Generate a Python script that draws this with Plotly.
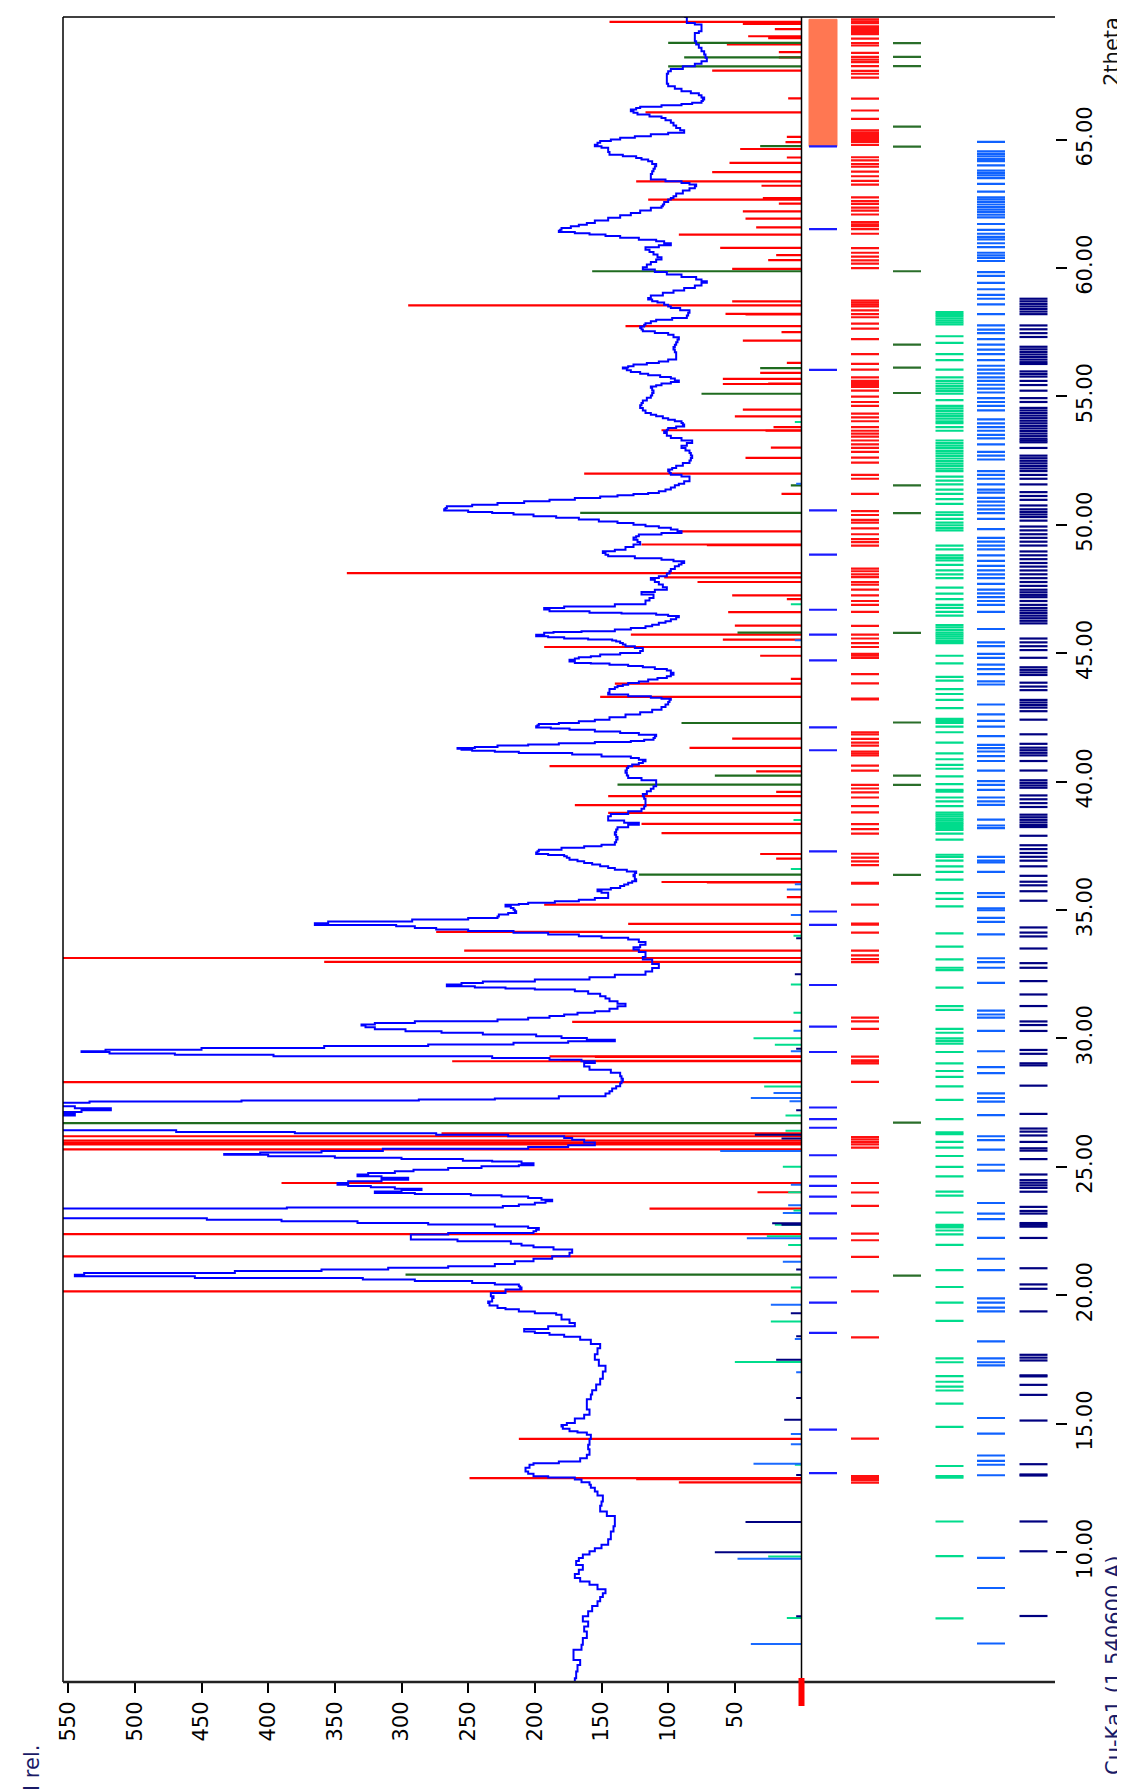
import plotly.graph_objects as go

# ---------------- data ----------------
# measured pattern (2theta, relative intensity)
profile_2theta = [
 4.94, 5.09, 5.35, 5.6, 5.8, 6.0, 6.2, 6.39, 6.65, 6.91,
 7.1, 7.3, 7.5, 7.69, 7.9, 8.08, 8.25, 8.4, 8.55, 8.73,
 8.85, 8.99, 9.15, 9.31, 9.5, 9.65, 9.77, 9.9, 10.03, 10.15,
 10.28, 10.5, 10.8, 11.0, 11.19, 11.4, 11.58, 11.8, 11.97, 12.2,
 12.36, 12.5, 12.62, 12.72, 12.82, 12.9, 12.95, 13.05, 13.14, 13.28,
 13.4, 13.46, 13.53, 13.65, 13.79, 14.0, 14.18, 14.4, 14.57, 14.65,
 14.7, 14.8, 14.89, 14.95, 15.02, 15.2, 15.35, 15.55, 15.74, 15.95,
 16.13, 16.3, 16.52, 16.75, 17.03, 17.25, 17.49, 17.7, 17.94, 18.1,
 18.27, 18.38, 18.46, 18.53, 18.59, 18.68, 18.79, 18.92, 19.05, 19.24,
 19.3, 19.37, 19.45, 19.5, 19.6, 19.7, 19.76, 19.89, 19.96, 20.09,
 20.22, 20.3, 20.35, 20.42, 20.48, 20.55, 20.61, 20.67, 20.74, 20.8,
 20.87, 20.94, 21.0, 21.07, 21.13, 21.22, 21.32, 21.42, 21.52, 21.65,
 21.78, 21.87, 21.94, 22.0, 22.1, 22.17, 22.29, 22.36, 22.42, 22.49,
 22.55, 22.62, 22.68, 22.75, 22.81, 22.88, 22.94, 23.0, 23.33, 23.38,
 23.42, 23.47, 23.53, 23.6, 23.66, 23.72, 23.79, 23.84, 23.89, 23.94,
 23.98, 24.04, 24.1, 24.15, 24.2, 24.25, 24.3, 24.37, 24.44, 24.5,
 24.57, 24.63, 24.7, 24.76, 24.83, 24.89, 24.95, 25.02, 25.06, 25.14,
 25.21, 25.24, 25.3, 25.35, 25.41, 25.47, 25.5, 25.56, 25.62, 25.7,
 25.77, 25.84, 25.95, 26.05, 26.12, 26.19, 26.25, 26.31, 26.36, 26.42,
 26.9, 27.0, 27.06, 27.13, 27.2, 27.28, 27.36, 27.42, 27.49, 27.54,
 27.58, 27.62, 27.66, 27.75, 27.85, 27.94, 28.05, 28.14, 28.25, 28.33,
 28.43, 28.53, 28.66, 28.78, 28.91, 29.04, 29.11, 29.17, 29.24, 29.3,
 29.36, 29.41, 29.47, 29.5, 29.56, 29.63, 29.7, 29.76, 29.83, 29.89,
 29.95, 30.02, 30.08, 30.15, 30.22, 30.28, 30.36, 30.43, 30.5, 30.54,
 30.6, 30.67, 30.74, 30.8, 30.87, 30.93, 31.0, 31.06, 31.15, 31.25,
 31.35, 31.45, 31.55, 31.64, 31.74, 31.84, 31.9, 31.94, 31.98, 32.03,
 32.1, 32.16, 32.22, 32.29, 32.38, 32.48, 32.6, 32.74, 32.9, 33.07,
 33.17, 33.26, 33.36, 33.46, 33.55, 33.65, 33.75, 33.85, 33.92, 33.98,
 34.05, 34.11, 34.18, 34.24, 34.3, 34.37, 34.42, 34.48, 34.55, 34.63,
 34.69, 34.75, 34.82, 34.88, 34.95, 35.01, 35.08, 35.14, 35.2, 35.23,
 35.28, 35.34, 35.4, 35.47, 35.55, 35.6, 35.67, 35.73, 35.8, 35.86,
 35.93, 35.99, 36.06, 36.12, 36.2, 36.31, 36.37, 36.44, 36.5, 36.57,
 36.63, 36.7, 36.77, 36.83, 36.9, 36.96, 37.03, 37.09, 37.14, 37.18,
 37.24, 37.29, 37.35, 37.42, 37.48, 37.54, 37.64, 37.74, 37.84, 37.93,
 38.03, 38.13, 38.22, 38.32, 38.4, 38.48, 38.56, 38.65, 38.74, 38.84,
 38.94, 39.04, 39.13, 39.23, 39.33, 39.43, 39.52, 39.62, 39.72, 39.82,
 39.89, 39.95, 40.05, 40.14, 40.24, 40.34, 40.43, 40.53, 40.6, 40.66,
 40.72, 40.79, 40.85, 40.92, 40.98, 41.05, 41.11, 41.16, 41.2, 41.24,
 41.28, 41.31, 41.35, 41.4, 41.44, 41.49, 41.54, 41.58, 41.63, 41.7,
 41.76, 41.82, 41.89, 41.95, 42.02, 42.07, 42.11, 42.15, 42.19, 42.24,
 42.28, 42.35, 42.41, 42.5, 42.61, 42.7, 42.8, 42.9, 43.0, 43.1,
 43.19, 43.22, 43.26, 43.32, 43.39, 43.46, 43.52, 43.6, 43.67, 43.72,
 43.77, 43.84, 43.9, 43.97, 44.03, 44.1, 44.16, 44.24, 44.32, 44.38,
 44.45, 44.5, 44.55, 44.6, 44.62, 44.68, 44.74, 44.79, 44.84, 44.88,
 44.95, 45.01, 45.08, 45.14, 45.2, 45.27, 45.34, 45.4, 45.45, 45.49,
 45.53, 45.57, 45.62, 45.66, 45.72, 45.79, 45.82, 45.85, 45.92, 45.98,
 46.05, 46.11, 46.18, 46.24, 46.32, 46.4, 46.45, 46.5, 46.54, 46.57,
 46.63, 46.7, 46.76, 46.82, 46.9, 46.95, 47.05, 47.15, 47.28, 47.38,
 47.47, 47.57, 47.67, 47.77, 47.86, 47.93, 47.99, 48.1, 48.19, 48.28,
 48.38, 48.45, 48.51, 48.58, 48.64, 48.7, 48.77, 48.83, 48.9, 48.97,
 49.03, 49.13, 49.23, 49.33, 49.42, 49.5, 49.55, 49.62, 49.68, 49.75,
 49.81, 49.88, 49.94, 50.0, 50.07, 50.13, 50.2, 50.27, 50.33, 50.4,
 50.46, 50.5, 50.55, 50.6, 50.65, 50.72, 50.78, 50.85, 50.91, 50.97,
 51.04, 51.1, 51.15, 51.2, 51.24, 51.3, 51.37, 51.45, 51.54, 51.6,
 51.69, 51.76, 51.82, 51.88, 51.95, 52.01, 52.08, 52.15, 52.21, 52.3,
 52.4, 52.5, 52.6, 52.7, 52.79, 52.89, 52.99, 53.08, 53.18, 53.28,
 53.38, 53.47, 53.57, 53.64, 53.7, 53.77, 53.83, 53.9, 53.96, 54.03,
 54.09, 54.15, 54.22, 54.28, 54.35, 54.45, 54.55, 54.65, 54.74, 54.84,
 54.94, 55.03, 55.13, 55.23, 55.33, 55.38, 55.43, 55.5, 55.56, 55.62,
 55.69, 55.75, 55.82, 55.88, 55.95, 56.02, 56.08, 56.12, 56.17, 56.24,
 56.3, 56.36, 56.43, 56.52, 56.62, 56.72, 56.82, 56.92, 57.01, 57.11,
 57.21, 57.3, 57.4, 57.47, 57.53, 57.6, 57.66, 57.72, 57.79, 57.85,
 57.92, 57.98, 58.05, 58.15, 58.25, 58.35, 58.44, 58.5, 58.57, 58.65,
 58.7, 58.77, 58.83, 58.93, 59.03, 59.12, 59.22, 59.32, 59.42, 59.48,
 59.55, 59.65, 59.74, 59.84, 59.94, 60.03, 60.13, 60.23, 60.33, 60.42,
 60.52, 60.62, 60.71, 60.8, 60.88, 60.96, 61.04, 61.1, 61.17, 61.24,
 61.3, 61.35, 61.4, 61.45, 61.49, 61.55, 61.62, 61.68, 61.75, 61.85,
 61.95, 62.05, 62.14, 62.24, 62.34, 62.4, 62.47, 62.57, 62.66, 62.72,
 62.79, 62.9, 63.01, 63.1, 63.18, 63.25, 63.31, 63.37, 63.44, 63.5,
 63.57, 63.66, 63.76, 63.86, 63.96, 64.05, 64.15, 64.22, 64.28, 64.35,
 64.41, 64.51, 64.61, 64.68, 64.74, 64.8, 64.87, 64.94, 65.0, 65.07,
 65.13, 65.2, 65.26, 65.36, 65.45, 65.55, 65.65, 65.75, 65.84, 65.9,
 65.97, 66.04, 66.1, 66.17, 66.23, 66.28, 66.33, 66.38, 66.43, 66.5,
 66.56, 66.64, 66.72, 66.8, 66.88, 66.98, 67.07, 67.17, 67.27, 67.37,
 67.46, 67.56, 67.66, 67.75, 67.85, 67.95, 68.05, 68.18, 68.31, 68.44,
 68.57, 68.7, 68.83, 68.96, 69.09, 69.15, 69.22, 69.32, 69.41, 69.48,
 69.54, 69.62, 69.7, 69.77,
]
profile_int = [
 170, 169, 168, 166, 171, 171, 165, 164, 161, 163,
 160, 164, 160, 157, 153, 151, 149, 147, 153, 159,
 166, 170, 167, 164, 169, 167, 164, 159, 155, 150,
 145, 143, 141, 140, 140, 146, 151, 150, 149, 153,
 155, 158, 159, 165, 170, 190, 201, 205, 207, 204,
 201, 182, 166, 161, 159, 160, 159, 158, 161, 168,
 174, 179, 180, 176, 170, 163, 159, 161, 161, 158,
 157, 154, 151, 149, 147, 152, 155, 153, 151, 158,
 166, 178, 189, 200, 208, 190, 170, 174, 180, 184,
 200, 212, 222, 228, 234, 235, 232, 231, 233, 222,
 210, 211, 212, 230, 247, 290, 329, 455, 545, 538,
 425, 360, 310, 265, 230, 215, 201, 187, 174, 172,
 186, 201, 210, 218, 258, 293, 293, 265, 201, 199,
 197, 205, 230, 280, 333, 390, 446, 600, 600, 386,
 224, 212, 200, 192, 187, 195, 205, 225, 248, 290,
 320, 300, 285, 305, 323, 340, 348, 340, 315, 295,
 315, 333, 325, 305, 291, 265, 240, 212, 201, 210,
 232, 254, 300, 350, 400, 433, 406, 360, 314, 205,
 175, 155, 163, 172, 178, 220, 274, 380, 469, 600,
 600, 545, 560, 540, 518, 545, 560, 560, 534, 420,
 287, 230, 182, 147, 144, 142, 139, 136, 135, 134,
 135, 136, 143, 159, 163, 155, 165, 189, 232, 396,
 470, 519, 540, 522, 450, 358, 280, 216, 175, 140,
 161, 180, 199, 239, 270, 297, 320, 327, 330, 320,
 290, 228, 205, 189, 178, 168, 155, 144, 138, 132,
 138, 144, 147, 151, 160, 170, 200, 222, 245, 266,
 255, 239, 200, 159, 140, 117, 112, 107, 112, 119,
 117, 117, 122, 126, 121, 117, 122, 130, 150, 167,
 190, 216, 250, 274, 290, 304, 365, 355, 292, 250,
 228, 227, 220, 214, 215, 216, 218, 222, 212, 205,
 185, 167, 155, 145, 145, 145, 150, 153, 143, 136,
 133, 130, 127, 124, 125, 126, 125, 124, 131, 140,
 145, 151, 157, 163, 168, 174, 176, 178, 190, 199,
 198, 197, 180, 163, 150, 140, 139, 138, 139, 140,
 139, 138, 130, 122, 133, 145, 145, 143, 130, 120,
 118, 117, 117, 117, 118, 119, 116, 113, 111, 109,
 109, 109, 120, 130, 131, 132, 131, 130, 127, 122,
 119, 117, 122, 128, 150, 172, 212, 230, 247, 255,
 258, 245, 228, 205, 182, 155, 128, 118, 111, 110,
 109, 122, 136, 155, 174, 188, 199, 198, 197, 182,
 167, 155, 144, 132, 121, 112, 105, 102, 100, 99,
 98, 105, 113, 130, 145, 144, 144, 140, 138, 134,
 130, 122, 115, 108, 101, 98, 96, 98, 101, 110,
 119, 130, 144, 158, 170, 174, 170, 167, 158, 151,
 136, 121, 119, 119, 125, 132, 134, 136, 139, 142,
 160, 178, 190, 199, 193, 186, 165, 140, 128, 117,
 112, 107, 102, 98, 94, 92, 100, 109, 135, 159,
 189, 193, 178, 140, 117, 117, 114, 111, 120, 110,
 101, 104, 107, 110, 113, 107, 101, 99, 98, 95,
 92, 90, 88, 96, 105, 125, 145, 147, 149, 140,
 132, 126, 121, 123, 126, 124, 122, 105, 90, 93,
 98, 107, 117, 126, 138, 152, 167, 184, 201, 216,
 232, 250, 268, 267, 266, 247, 228, 208, 189, 170,
 151, 138, 126, 115, 107, 102, 98, 95, 92, 88,
 84, 84, 84, 90, 98, 99, 100, 97, 94, 89,
 84, 83, 82, 83, 84, 87, 90, 86, 82, 90,
 98, 101, 103, 101, 100, 94, 88, 89, 90, 95,
 100, 104, 109, 113, 117, 119, 121, 120, 119, 116,
 113, 112, 111, 112, 113, 109, 105, 98, 92, 95,
 98, 106, 115, 121, 128, 131, 134, 130, 126, 116,
 107, 100, 94, 94, 94, 95, 96, 95, 94, 93,
 92, 96, 100, 110, 119, 120, 121, 118, 117, 113,
 109, 97, 86, 85, 84, 91, 98, 100, 103, 108,
 112, 115, 113, 104, 96, 88, 80, 75, 71, 75,
 79, 90, 101, 110, 119, 116, 113, 109, 105, 108,
 111, 114, 117, 107, 98, 103, 109, 122, 136, 147,
 159, 170, 182, 181, 180, 173, 167, 161, 155, 145,
 136, 128, 121, 113, 105, 104, 103, 100, 98, 96,
 94, 89, 84, 80, 79, 84, 90, 102, 113, 113,
 113, 112, 111, 110, 109, 112, 115, 120, 124, 134,
 144, 145, 145, 150, 155, 153, 151, 143, 136, 125,
 113, 100, 88, 91, 94, 96, 98, 102, 105, 114,
 123, 126, 128, 124, 121, 105, 90, 82, 75, 74,
 73, 75, 77, 83, 90, 95, 100, 101, 101, 101,
 101, 100, 98, 89, 80, 75, 71, 72, 73, 75,
 77, 79, 80, 80, 80, 77, 75, 75, 75, 80,
 86, 86, 86, 88,
]

# reference phase sticks in the intensity panel
red_2theta = [12.71, 12.84, 12.88, 14.41, 20.15, 21.51, 22.38, 23.37, 24.01, 24.37,
              25.68, 25.87, 25.93, 26.02, 26.19, 26.3, 28.3, 29.11, 29.13, 29.28,
              29.3, 30.64, 32.98, 33.13, 33.42, 34.15, 34.46, 35.21, 36.07, 36.09,
              37.18, 37.99, 38.35, 38.78, 39.08, 39.43, 40.4, 40.6, 41.31, 41.67,
              43.3, 43.81, 44.9, 45.24, 45.53, 45.72, 46.07, 46.6, 47.25, 47.77,
              47.95, 48.12, 49.21, 49.23, 49.74, 51.99, 52.6, 53.66, 53.68, 54.22,
              54.48, 55.48, 55.68, 55.91, 57.17, 57.73, 58.19, 58.21, 58.54, 58.7,
              59.96, 60.78, 61.3, 61.58, 61.92, 62.2, 62.66, 63.37, 63.73, 64.09,
              64.63, 66.06, 67.68, 68.7, 69.02, 69.58,
              60.3, 60.5, 62.5, 62.72, 63.2, 64.3, 64.9, 65.1, 66.6, 68.4,
              68.2, 68.95, 69.3, 69.5, 57.5, 56.3, 55.5, 53.8, 53.0, 51.2,
              47.1, 44.0, 39.6, 37.0, 35.5]
red_int = [92, 124, 249, 212, 600, 600, 600, 114, 33, 390,
           600, 600, 600, 600, 600, 270, 600, 262, 180, 155,
           189, 172, 358, 600, 253, 274, 130, 193, 71, 105,
           31, 105, 120, 145, 170, 145, 34, 189, 84, 52,
           151, 140, 31, 193, 59, 128, 50, 55, 52, 78,
           103, 341, 71, 120, 92, 163, 42, 27, 105, 50,
           44, 59, 59, 31, 44, 132, 42, 57, 295, 52,
           52, 61, 92, 34, 42, 44, 115, 124, 67, 54,
           46, 117, 67, 56, 40, 144,
           25, 19, 17, 29, 30, 11, 12, 11, 10, 17,
           17, 25, 20, 44, 15, 11, 25, 21, 23, 15,
           11, 8, 19, 19, 11]

green_2theta = [20.8, 26.7, 36.38, 39.88, 40.23, 42.28, 45.8, 50.46, 51.53, 55.1,
                56.1, 59.87, 64.74, 67.85, 68.2, 68.76]
green_int = [297, 600, 122, 138, 65, 90, 48, 166, 8, 75,
             31, 157, 31, 100, 88, 100]

teal_2theta = [7.43, 9.83, 13.4, 17.4, 18.98, 20.3, 21.96, 22.3, 22.74, 23.3,
               24.01, 25.0, 26.4, 27.0, 28.13, 29.75, 30.01, 31.0, 32.1, 34.0,
               36.6, 38.5, 46.9, 54.0]
teal_int = [11, 25, 5, 50, 23, 8, 10, 26, 20, 6,
            10, 14, 12, 12, 28, 20, 36, 6, 8, 6,
            8, 6, 8, 5]

ltblue_2theta = [6.42, 9.74, 13.44, 14.2, 14.6, 17.0, 18.3, 19.63, 21.3, 22.22,
                 23.2, 23.5, 24.3, 25.62, 27.55, 27.68, 27.87, 29.5, 30.3, 34.8,
                 35.8, 36.0, 45.5, 51.6]
ltblue_int = [38, 48, 36, 8, 8, 4, 5, 23, 14, 41,
              14, 10, 8, 61, 9, 38, 21, 8, 6, 8,
              11, 5, 5, 4]

navy_2theta = [7.5, 9.99, 11.17, 13.0, 15.15, 16.0, 17.49, 18.4, 19.3, 21.0,
               22.74, 22.8, 26.1, 26.25, 27.2, 29.6, 32.5, 33.9]
navy_int = [4, 65, 42, 4, 13, 4, 19, 4, 8, 4,
            15, 22, 15, 35, 4, 4, 5, 4]

# stick-pattern columns (peak positions only)
col_blue = [64.73, 61.51, 56.03, 50.56, 48.84, 46.69, 45.72, 44.72, 42.11, 41.22,
            37.28, 34.94, 34.42, 32.08, 30.46, 29.47, 27.31, 26.86, 26.52, 25.45,
            24.63, 24.26, 23.84, 23.19, 22.21, 20.69, 19.71, 18.53, 14.77, 13.07]
col_blue_band = [64.73, 69.68]

col_red = [69.68, 69.6, 69.53, 69.41, 69.35, 69.29, 69.23, 69.16, 69.1, 68.93,
           68.75, 68.66, 68.37, 68.22, 68.11, 68.01, 67.86, 67.67, 67.56, 67.41,
           66.59, 66.13, 65.8, 65.36, 65.28, 65.21, 65.13, 65.06, 64.98, 64.91,
           64.79, 64.31, 64.19, 64.04, 63.94, 63.75, 63.57, 63.39, 63.24, 62.75,
           62.6, 62.49, 62.35, 62.23, 62.08, 61.78, 61.7, 61.63, 61.51, 61.33,
           60.77, 60.59, 60.44, 60.29, 60.17, 59.99, 58.73, 58.65, 58.57, 58.5,
           58.35, 58.2, 58.08, 57.83, 57.64, 57.23, 56.64, 56.26, 56.04, 55.74,
           55.6, 55.52, 55.44, 55.37, 55.22, 54.99, 54.78, 54.63, 54.33, 54.18,
           54.03, 53.8, 53.66, 53.55, 53.43, 53.28, 53.13, 52.99, 52.84, 52.61,
           52.42, 51.94, 51.79, 51.2, 50.53, 50.38, 50.19, 50.08, 49.86, 49.63,
           49.44, 49.32, 49.19, 48.29, 48.19, 48.07, 47.96, 47.77, 47.67, 47.47,
           47.25, 47.03, 46.88, 46.61, 46.06, 45.72, 45.57, 45.39, 45.24, 44.97,
           44.9, 44.82, 44.18, 43.82, 43.23, 43.2, 41.92, 41.84, 41.66, 41.52,
           41.4, 41.17, 41.1, 41.02, 40.62, 40.43, 39.87, 39.73, 39.58, 39.38,
           39.04, 38.8, 38.34, 38.15, 37.97, 37.19, 37.04, 36.89, 36.75, 36.06,
           36.03, 35.21, 34.47, 34.43, 34.12, 33.42, 33.23, 33.09, 32.97, 30.81,
           30.66, 30.37, 29.29, 29.15, 29.09, 29.03, 28.31, 26.16, 26.07, 25.97,
           25.87, 25.75, 24.37, 24.0, 23.48, 22.4, 22.14, 21.49, 20.15, 18.36,
           14.42, 12.96, 12.88, 12.8, 12.7]

col_green = [68.75, 68.22, 67.86, 65.5, 64.72, 59.87, 57.01, 56.12, 55.13, 51.53,
             50.45, 45.79, 42.3, 40.23, 39.87, 36.37, 26.72, 20.76]

col_teal = [58.28, 58.2, 58.12, 58.04, 57.96, 57.88, 57.8, 57.34, 57.08, 56.64,
            56.41, 56.04, 55.74, 55.6, 55.5, 55.4, 55.3, 55.2, 55.1, 54.85,
            54.63, 54.53, 54.43, 54.33, 54.23, 54.13, 54.03, 53.96, 53.8, 53.66,
            53.28, 53.18, 53.08, 52.98, 52.88, 52.78, 52.68, 52.58, 52.48, 52.38,
            52.28, 52.18, 52.09, 51.87, 51.72, 51.57, 51.37, 51.2, 51.0, 50.81,
            50.48, 50.38, 50.23, 50.08, 49.98, 49.88, 49.78, 49.19, 49.04, 48.81,
            48.71, 48.61, 48.44, 48.22, 48.07, 47.92, 47.55, 47.32, 47.1, 46.88,
            46.76, 46.61, 46.46, 46.09, 46.0, 45.9, 45.8, 45.72, 45.64, 45.56,
            45.47, 45.39, 44.9, 44.6, 44.08, 43.93, 43.6, 43.41, 43.18, 42.86,
            42.44, 42.36, 42.28, 42.14, 41.92, 41.52, 41.1, 40.87, 40.65, 40.5,
            40.2, 39.9, 39.68, 39.61, 39.38, 39.23, 39.04, 38.79, 38.71, 38.64,
            38.56, 38.49, 38.41, 38.34, 38.27, 38.19, 38.12, 37.97, 37.74, 37.15,
            37.07, 36.92, 36.7, 36.48, 36.18, 35.66, 35.43, 35.14, 34.09, 33.57,
            33.08, 32.75, 32.66, 31.98, 31.26, 31.11, 30.37, 30.22, 30.0, 29.9,
            29.8, 29.47, 29.03, 28.73, 28.5, 28.13, 27.61, 26.86, 26.34, 26.27,
            25.97, 25.75, 25.42, 25.0, 24.63, 24.03, 23.88, 23.22, 22.74, 22.69,
            22.64, 22.52, 22.37, 21.96, 20.98, 20.32, 19.71, 19.0, 17.54, 17.39,
            16.85, 16.63, 16.44, 16.29, 15.78, 14.87, 13.35, 12.96, 12.9, 11.19,
            9.84, 7.42]

col_ltblue = [64.91, 64.54, 64.44, 64.34, 64.24, 64.16, 63.99, 63.79, 63.69, 63.6,
              63.5, 63.27, 62.97, 62.75, 62.67, 62.57, 62.47, 62.37, 62.27, 62.17,
              62.07, 61.97, 61.71, 61.48, 61.33, 61.21, 61.11, 60.96, 60.81, 60.59,
              60.49, 60.39, 60.27, 59.84, 59.69, 59.42, 59.17, 58.95, 58.8, 58.58,
              58.2, 57.76, 57.6, 57.46, 57.23, 57.01, 56.82, 56.64, 56.41, 56.19,
              56.04, 55.89, 55.74, 55.6, 55.45, 55.3, 55.15, 54.93, 54.78, 54.63,
              54.45, 54.1, 53.95, 53.8, 53.66, 53.5, 53.36, 53.13, 52.84, 52.69,
              52.54, 52.09, 51.94, 51.79, 51.57, 51.37, 51.25, 51.05, 50.9, 50.75,
              50.6, 50.45, 50.23, 49.83, 49.49, 49.34, 49.19, 49.04, 48.81, 48.59,
              48.4, 48.22, 48.07, 47.92, 47.7, 47.47, 47.33, 47.18, 47.03, 46.88,
              46.61, 45.94, 45.42, 45.27, 44.97, 44.82, 44.55, 44.38, 44.18, 43.9,
              43.78, 43.0, 42.62, 42.36, 42.14, 41.77, 41.43, 41.3, 41.17, 40.99,
              40.8, 40.43, 40.02, 39.87, 39.68, 39.38, 39.23, 39.09, 38.52, 38.29,
              38.19, 37.07, 36.92, 36.85, 36.48, 35.66, 35.51, 35.06, 34.99, 34.69,
              34.54, 34.05, 33.12, 32.97, 32.75, 32.16, 31.08, 30.93, 30.81, 30.29,
              29.5, 28.88, 28.65, 27.86, 27.68, 27.54, 27.01, 26.19, 26.04, 25.67,
              25.08, 24.85, 23.59, 23.18, 22.96, 22.23, 21.42, 20.98, 19.88, 19.71,
              19.52, 19.37, 18.2, 17.54, 17.39, 17.27, 15.22, 14.61, 13.76, 13.55,
              13.4, 12.99, 9.77, 8.6, 6.44]

col_navy = [58.8, 58.7, 58.6, 58.5, 58.4, 58.3, 58.2, 57.76, 57.61, 57.46,
            57.31, 56.93, 56.83, 56.73, 56.63, 56.53, 56.43, 56.33, 56.26, 55.97,
            55.87, 55.77, 55.6, 55.44, 55.22, 54.93, 54.78, 54.55, 54.45, 54.35,
            54.25, 54.15, 54.05, 53.95, 53.85, 53.75, 53.65, 53.55, 53.45, 53.35,
            53.28, 53.21, 52.99, 52.69, 52.59, 52.49, 52.39, 52.29, 52.19, 52.09,
            51.94, 51.79, 51.57, 51.27, 51.12, 50.97, 50.75, 50.6, 50.5, 50.4,
            50.3, 50.16, 49.93, 49.78, 49.63, 49.49, 49.34, 49.19, 48.96, 48.81,
            48.66, 48.51, 48.37, 48.22, 48.07, 47.92, 47.77, 47.62, 47.47, 47.37,
            47.27, 47.18, 47.03, 46.88, 46.76, 46.66, 46.56, 46.46, 46.36, 46.26,
            46.16, 45.57, 45.42, 45.27, 45.12, 44.82, 44.45, 44.35, 44.25, 44.15,
            43.85, 43.7, 43.56, 43.18, 43.08, 42.98, 42.88, 42.74, 42.41, 41.84,
            41.47, 41.32, 41.22, 41.12, 41.02, 40.8, 40.43, 40.05, 39.95, 39.85,
            39.76, 39.46, 39.31, 39.16, 39.01, 38.71, 38.61, 38.51, 38.41, 38.31,
            38.23, 37.89, 37.52, 37.37, 37.22, 37.07, 36.92, 36.7, 36.33, 36.1,
            35.96, 35.73, 35.36, 34.32, 34.12, 33.97, 33.5, 32.93, 32.75, 32.23,
            31.71, 31.26, 30.66, 30.52, 30.29, 29.55, 29.4, 29.03, 28.95, 28.16,
            27.06, 26.49, 26.37, 26.22, 25.97, 25.72, 25.63, 25.3, 24.7, 24.48,
            24.38, 24.28, 24.18, 24.03, 23.44, 23.28, 23.18, 22.81, 22.74, 22.67,
            22.23, 21.05, 20.42, 20.25, 19.37, 17.68, 17.57, 17.46, 16.88, 16.84,
            16.51, 16.12, 15.12, 13.42, 13.02, 12.98, 11.19, 10.03, 7.51]

x_tickvals = [50, 100, 150, 200, 250, 300, 350, 400, 450, 500, 550]
y_tickvals = [10, 15, 20, 25, 30, 35, 40, 45, 50, 55, 60, 65]
y_ticktext = ["10.00", "15.00", "20.00", "25.00", "30.00", "35.00",
              "40.00", "45.00", "50.00", "55.00", "60.00", "65.00"]

# ---------------- layout constants (pixels) ----------------
W, H = 1125, 1790
PL, PR, PT, PB = 55, 1047, 9, 1674        # plot frame
X_ZERO = 793.5                            # intensity zero line
PW, PH = PR - PL, PB - PT
F0 = (X_ZERO - PL) / PW
I_MAX = (X_ZERO - PL) / 1.3333
T_RANGE = [4.94, 69.77]
LANE_W = PR - X_ZERO
LANES = [21.5, 63.5, 105.5, 148.0, 189.5, 232.0]   # lane centres in px from zero line
HALF = 14

FONT = "DejaVu Sans"


def hsticks(pos, vals):
    xs, ys = [], []
    for p, v in zip(pos, vals):
        xs += [0, v, None]
        ys += [p, p, None]
    return xs, ys


def lane(pos, c):
    xs, ys = [], []
    for p in pos:
        xs += [c - HALF, c + HALF, None]
        ys += [p, p, None]
    return xs, ys


fig = go.Figure()

for pos, val, col, w in [
    (red_2theta, red_int, "#ff0000", 2.2),
    (green_2theta, green_int, "#1f6b1f", 2.2),
    (teal_2theta, teal_int, "#00dc8c", 2),
    (ltblue_2theta, ltblue_int, "#1a6aff", 2),
    (navy_2theta, navy_int, "#000080", 2),
]:
    xs, ys = hsticks(pos, val)
    fig.add_trace(go.Scatter(x=xs, y=ys, mode="lines", xaxis="x", yaxis="y",
                             line=dict(color=col, width=w), hoverinfo="skip",
                             showlegend=False))

fig.add_trace(go.Scatter(x=profile_int, y=profile_2theta, mode="lines",
                         xaxis="x", yaxis="y", line=dict(color="#0000ff", width=2, shape="vh"),
                         hoverinfo="skip", showlegend=False))

c0 = LANES[0]
fig.add_trace(go.Scatter(
    x=[c0 - HALF, c0 + HALF, c0 + HALF, c0 - HALF, c0 - HALF],
    y=[col_blue_band[0], col_blue_band[0], col_blue_band[1], col_blue_band[1], col_blue_band[0]],
    mode="lines", fill="toself", fillcolor="#ff7752", line=dict(color="#ff7752", width=1),
    xaxis="x2", yaxis="y", hoverinfo="skip", showlegend=False))

for pos, col, c in [
    (col_blue, "#1a1aff", LANES[0]),
    (col_red, "#ff1010", LANES[1]),
    (col_green, "#2a6e2a", LANES[2]),
    (col_teal, "#00dc8c", LANES[3]),
    (col_ltblue, "#0f62ff", LANES[4]),
    (col_navy, "#000080", LANES[5]),
]:
    xs, ys = lane(pos, c)
    fig.add_trace(go.Scatter(x=xs, y=ys, mode="lines", xaxis="x2", yaxis="y",
                             line=dict(color=col, width=2.2), hoverinfo="skip",
                             showlegend=False))

shapes = [
    dict(type="line", xref="paper", yref="paper", x0=0, x1=1, y0=1, y1=1,
         line=dict(color="black", width=1.5), layer="above"),
    dict(type="line", xref="paper", yref="paper", x0=0, x1=0, y0=0, y1=1,
         line=dict(color="black", width=1.5), layer="above"),
    dict(type="line", xref="paper", yref="paper", x0=F0, x1=F0, y0=0, y1=1,
         line=dict(color="black", width=1.5), layer="above"),
    dict(type="line", xref="paper", yref="paper", x0=0, x1=1, y0=0, y1=0,
         line=dict(color="#222", width=2.5), layer="above"),
    dict(type="rect", xref="paper", yref="paper", x0=F0 - 3 / PW, x1=F0 + 3 / PW,
         y0=-24 / PH, y1=4 / PH, fillcolor="#ff0000", line=dict(width=0), layer="above"),
]

annotations = [
    dict(text="2theta", xref="paper", yref="paper", x=(1104 - PL) / PW, y=(PB - 44) / PH,
         textangle=-90, showarrow=False, xanchor="center", yanchor="middle",
         font=dict(family=FONT, size=21, color="#111")),
    dict(text="Cu-Ka1 (1.540600 A)", xref="paper", yref="paper", x=(1106 - PL) / PW,
         y=(PB - 1657) / PH, textangle=-90, showarrow=False, xanchor="center",
         yanchor="middle", font=dict(family=FONT, size=21, color="#1a1a66")),
    dict(text="I rel.", xref="paper", yref="paper", x=(24 - PL) / PW, y=(PB - 1760) / PH,
         textangle=-90, showarrow=False, xanchor="center", yanchor="middle",
         font=dict(family=FONT, size=21, color="#1a1a66")),
]

fig.update_layout(
    width=W, height=H,
    margin=dict(l=PL, r=W - PR, t=PT, b=H - PB, pad=0),
    paper_bgcolor="white", plot_bgcolor="white",
    font=dict(family=FONT, size=21, color="black"),
    xaxis=dict(domain=[0, F0], range=[I_MAX, 0], tickvals=x_tickvals, tickangle=-90,
               ticks="outside", ticklen=10, tickwidth=1.5, tickcolor="black",
               showgrid=False, zeroline=False, showline=False,
               tickfont=dict(family=FONT, size=21, color="black"), anchor="y"),
    xaxis2=dict(domain=[F0, 1], range=[0, LANE_W], visible=False, anchor="y",
                showgrid=False, zeroline=False),
    yaxis=dict(range=T_RANGE, side="right", anchor="free", position=1,
               tickvals=y_tickvals, ticktext=y_ticktext, tickangle=-90,
               ticks="outside", ticklen=11, tickwidth=1.5, tickcolor="black",
               showgrid=False, zeroline=False, showline=False,
               tickfont=dict(family=FONT, size=21, color="black")),
    shapes=shapes, annotations=annotations, showlegend=False,
)

fig.write_html("out.html")
